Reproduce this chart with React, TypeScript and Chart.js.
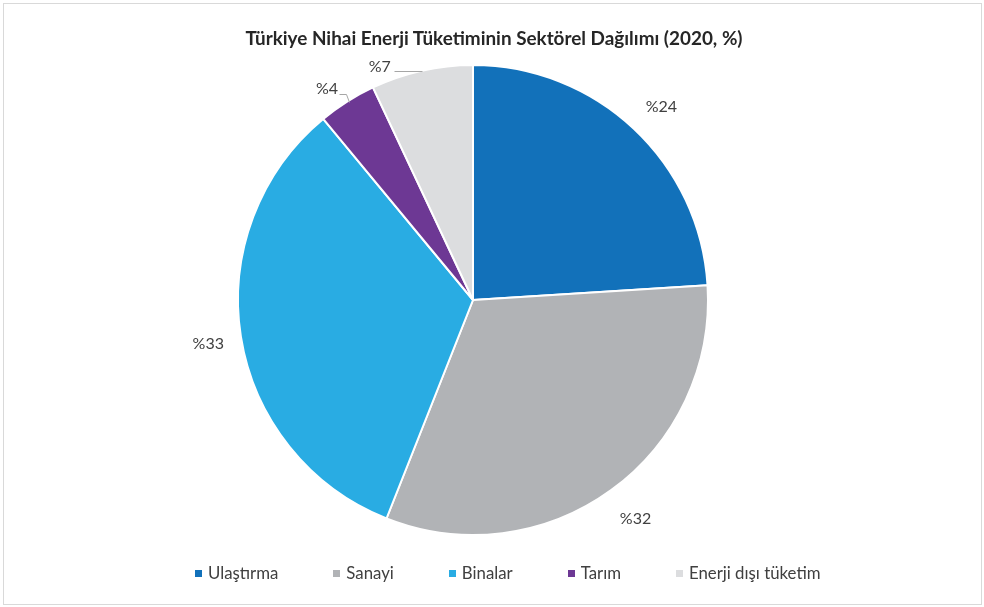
import React, { useEffect, useRef } from "react";
import { Chart, registerables } from "chart.js";

Chart.register(...registerables);

const title = "Türkiye Nihai Enerji Tüketiminin Sektörel Dağılımı (2020, %)";
const categories = ["Ulaştırma", "Sanayi", "Binalar", "Tarım", "Enerji dışı tüketim"];
const shares = [24, 32, 33, 4, 7];
const valueLabels = ["%24", "%32", "%33", "%4", "%7"];
const colors = ["#1271BA", "#B1B3B6", "#29ACE3", "#6D3894", "#DCDDDF"];

const FONT = "Lato, 'Open Sans', sans-serif";
const TEXT = "#404040";

// leader-line placements for the thin slices (offsets from the slice's outer mid point)
const smallLabel: Record<number, { dx: number; dy: number; path: number[][] }> = {
  3: { dx: -20, dy: -13, path: [[-8, -8], [-1, -8], [2, 0]] },
  4: { dx: -42, dy: -4, path: [[-28, 0], [0, 0]] },
};

const labelPlugin = {
  id: "sliceLabels",
  afterDatasetsDraw(chart: any) {
    const ctx = chart.ctx;
    const meta = chart.getDatasetMeta(0);
    ctx.save();
    ctx.font = `16px ${FONT}`;
    ctx.fillStyle = TEXT;
    ctx.textAlign = "center";
    ctx.textBaseline = "middle";
    meta.data.forEach((arc: any, i: number) => {
      const { x, y, startAngle, endAngle, outerRadius } = arc.getProps(
        ["x", "y", "startAngle", "endAngle", "outerRadius"],
        true
      );
      const mid = (startAngle + endAngle) / 2;
      const cx = Math.cos(mid);
      const sy = Math.sin(mid);
      const s = smallLabel[i];
      if (s) {
        const px = x + outerRadius * cx;
        const py = y + outerRadius * sy;
        ctx.strokeStyle = "#A6A6A6";
        ctx.lineWidth = 1;
        ctx.beginPath();
        s.path.forEach((p, k) => {
          const X = Math.round(px + p[0]) + 0.5;
          const Y = Math.round(py + p[1]) + 0.5;
          if (k === 0) ctx.moveTo(X, Y);
          else ctx.lineTo(X, Y);
        });
        ctx.stroke();
        ctx.fillText(valueLabels[i], px + s.dx, py + s.dy);
      } else {
        const r = outerRadius + 33;
        const shiftX = cx > 0 ? 5 : 0;
        ctx.fillText(valueLabels[i], x + r * cx + shiftX, y + r * sy + 2);
      }
    });
    ctx.restore();
  },
};

export default function App() {
  const ref = useRef<HTMLCanvasElement | null>(null);

  useEffect(() => {
    document.body.style.margin = "0";
    if (!ref.current) return;
    const chart = new Chart(ref.current, {
      type: "pie",
      data: {
        labels: categories,
        datasets: [
          {
            data: shares,
            backgroundColor: colors,
            borderColor: "#FFFFFF",
            borderWidth: 2,
          },
        ],
      },
      options: {
        responsive: false,
        animation: false,
        events: [],
        layout: { padding: { left: 237, right: 275, top: 64, bottom: 71 } },
        plugins: {
          legend: { display: false },
          title: { display: false },
          tooltip: { enabled: false },
        },
      },
      plugins: [labelPlugin],
    });
    return () => chart.destroy();
  }, []);

  return (
    <div
      style={{
        position: "absolute",
        left: 0,
        top: 0,
        width: 984,
        height: 607,
        background: "#FFFFFF",
        fontFamily: FONT,
      }}
    >
      <div
        style={{
          position: "absolute",
          left: 3,
          top: 3,
          width: 979,
          height: 602,
          border: "1px solid #D9D9D9",
          boxSizing: "border-box",
        }}
      />
      <canvas ref={ref} width={984} height={607} style={{ position: "absolute", left: 0, top: 0 }} />
      <div
        style={{
          position: "absolute",
          left: 0,
          width: 988,
          top: 26,
          textAlign: "center",
          fontWeight: 700,
          fontSize: 18.9,
          color: "#262626",
          lineHeight: "24px",
        }}
      >
        {title}
      </div>
      <div
        style={{
          position: "absolute",
          left: 195,
          top: 562,
          display: "flex",
          alignItems: "center",
          gap: 55,
          fontSize: 16.8,
          color: TEXT,
          lineHeight: "22px",
          whiteSpace: "nowrap",
        }}
      >
        {categories.map((c, i) => (
          <div key={c} style={{ display: "flex", alignItems: "center" }}>
            <span
              style={{
                display: "inline-block",
                width: 7,
                height: 7,
                background: colors[i],
                marginRight: 6,
              }}
            />
            <span>{c}</span>
          </div>
        ))}
      </div>
    </div>
  );
}
